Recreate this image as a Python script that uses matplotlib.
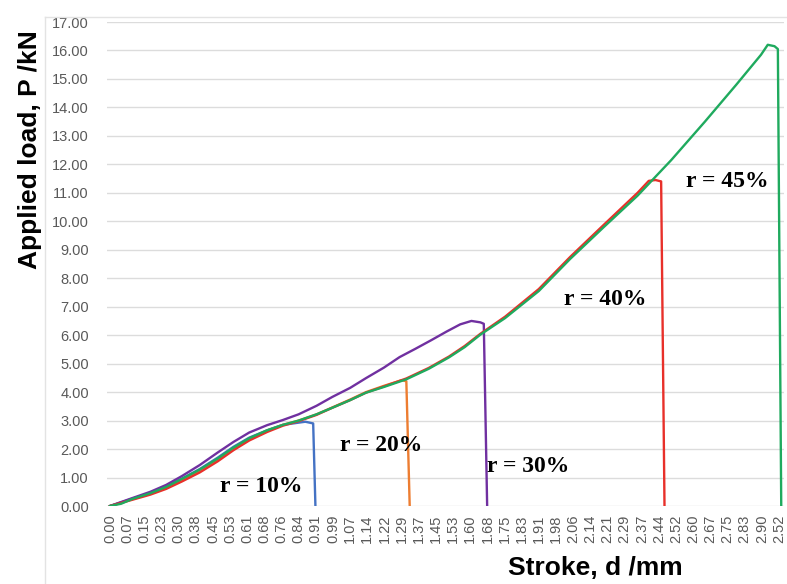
import numpy as np
import matplotlib.pyplot as plt
from matplotlib.lines import Line2D

# stroke d (mm) and load P (kN)
d10 = [0, 0.10, 0.18, 0.25, 0.32, 0.40, 0.48, 0.55, 0.62, 0.70, 0.77, 0.87, 0.905, 0.915]
p10 = [0, 0.26, 0.46, 0.68, 0.96, 1.30, 1.70, 2.08, 2.40, 2.66, 2.85, 2.96, 2.90, 0]

d20 = [0, 0.10, 0.18, 0.25, 0.32, 0.40, 0.48, 0.55, 0.62, 0.70, 0.77, 0.84, 0.92, 0.99,
       1.07, 1.14, 1.22, 1.30, 1.32, 1.335]
p20 = [0, 0.24, 0.43, 0.64, 0.92, 1.25, 1.64, 2.02, 2.36, 2.65, 2.85, 3.00, 3.22, 3.46,
       3.74, 4.00, 4.22, 4.42, 4.38, 0]

d30 = [0, 0.10, 0.18, 0.25, 0.32, 0.40, 0.48, 0.55, 0.62, 0.70, 0.77, 0.84, 0.92, 0.99,
       1.07, 1.14, 1.22, 1.29, 1.36, 1.43, 1.50, 1.56, 1.61, 1.65, 1.665, 1.68]
p30 = [0, 0.28, 0.50, 0.74, 1.05, 1.44, 1.88, 2.25, 2.58, 2.84, 3.02, 3.22, 3.52, 3.83,
       4.15, 4.49, 4.86, 5.23, 5.52, 5.82, 6.13, 6.38, 6.50, 6.45, 6.40, 0]

d40 = [0, 0.10, 0.18, 0.25, 0.32, 0.40, 0.48, 0.55, 0.62, 0.70, 0.77, 0.84, 0.92, 0.99,
       1.07, 1.14, 1.22, 1.32, 1.42, 1.51, 1.58, 1.65, 1.76, 1.91, 2.05, 2.20, 2.35, 2.40,
       2.43, 2.455, 2.47]
p40 = [0, 0.22, 0.40, 0.60, 0.86, 1.18, 1.57, 1.96, 2.30, 2.60, 2.82, 2.98, 3.20, 3.45,
       3.72, 3.98, 4.20, 4.48, 4.85, 5.25, 5.62, 6.05, 6.65, 7.62, 8.75, 9.88, 11.0, 11.42,
       11.45, 11.40, 0]

d45 = [0, 0.05, 0.10, 0.18, 0.25, 0.32, 0.40, 0.48, 0.55, 0.62, 0.70, 0.77, 0.84, 0.92,
       0.99, 1.07, 1.14, 1.22, 1.32, 1.42, 1.51, 1.58, 1.65, 1.76, 1.91, 2.05, 2.20, 2.35,
       2.50, 2.65, 2.79, 2.90, 2.93, 2.96, 2.975, 2.99]
p45 = [0, 0.08, 0.25, 0.45, 0.67, 0.95, 1.28, 1.67, 2.05, 2.38, 2.66, 2.85, 3.00, 3.22,
       3.45, 3.72, 3.98, 4.18, 4.45, 4.82, 5.22, 5.58, 6.02, 6.60, 7.55, 8.68, 9.80, 10.90,
       12.15, 13.50, 14.80, 15.85, 16.20, 16.15, 16.05, 0]

xticklabels = ["0.00", "0.07", "0.15", "0.23", "0.30", "0.38", "0.45", "0.53", "0.61", "0.68",
               "0.76", "0.84", "0.91", "0.99", "1.07", "1.14", "1.22", "1.29", "1.37", "1.45",
               "1.53", "1.60", "1.68", "1.75", "1.83", "1.91", "1.98", "2.06", "2.14", "2.21",
               "2.29", "2.37", "2.44", "2.52", "2.60", "2.67", "2.75", "2.83", "2.90", "2.52"]

labels = ["r = 10%", "r = 20%", "r = 30%", "r = 40%", "r = 45%"]
label_x = [0.674, 1.21, 1.862, 2.204, 2.749]
label_y = [0.67, 2.11, 1.40, 7.26, 11.4]

series = [(d10, p10, "#4472C4"), (d20, p20, "#ED7D31"), (d30, p30, "#7030A0"),
          (d40, p40, "#E8302A"), (d45, p45, "#1FAA5E")]

fig = plt.figure(figsize=(7.87, 5.84), dpi=100)
ax = fig.add_axes([107 / 787, 1 - 506 / 584, 677 / 787, 484 / 584])

for d, p, c in series:
    ax.plot(d, p, color=c, lw=1.7, zorder=3)

for t, x, y in zip(labels, label_x, label_y):
    ax.text(x, y, t, ha="center", va="center", fontsize=17, fontweight="bold",
            family="Liberation Serif", zorder=4)

ax.set_xlim(-3 / 224, 2.98 + 5 / 224)
ax.set_ylim(0, 17)
ax.set_xticks(np.linspace(0, 2.98, len(xticklabels)))
ax.set_xticklabels(xticklabels, rotation=90)
ax.set_yticks(np.arange(0, 18, 1))
ax.set_yticklabels([f"{v:.2f}" for v in range(18)])
ax.tick_params(axis="both", length=0, labelsize=10.5, labelcolor="#595959")
ax.tick_params(axis="y", pad=13)
ax.tick_params(axis="x", pad=6)
for lab in ax.get_xticklabels() + ax.get_yticklabels():
    lab.set_family("Liberation Sans")

ax.grid(axis="y", color="#DCDCDC", lw=1)
ax.set_axisbelow(True)
for s in ax.spines.values():
    s.set_visible(False)

fig.text(30 / 787, 1 - 150 / 584, "Applied load, P /kN", rotation=90, ha="center", va="center",
         fontsize=19, fontweight="bold", family="Liberation Sans")
fig.text(595 / 787, 1 - 568 / 584, "Stroke, d /mm", ha="center", va="center",
         fontsize=19, fontweight="bold", family="Liberation Sans")

# faint chart-area frame
fig.add_artist(Line2D([45 / 787, 45 / 787], [0, 1 - 17 / 584], color="#E3E3E3", lw=1))
fig.add_artist(Line2D([45 / 787, 1], [1 - 17 / 584, 1 - 17 / 584], color="#E3E3E3", lw=1))

fig.savefig("out.png", dpi=100)
